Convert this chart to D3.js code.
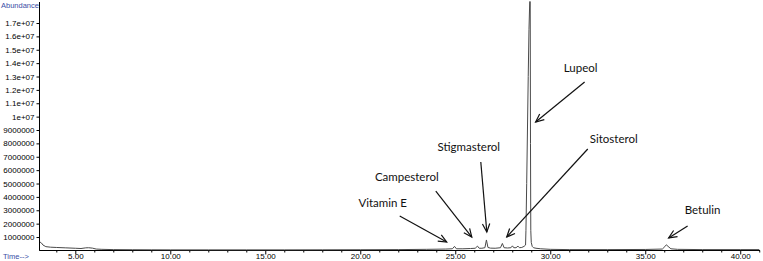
<!DOCTYPE html>
<html><head><meta charset="utf-8">
<script src="https://cdn.jsdelivr.net/npm/d3@7/dist/d3.min.js"></script>
<style>
html,body{margin:0;padding:0;background:#fff;}
svg{display:block;}
</style></head>
<body>
<svg id="chart" width="763" height="261"></svg>
<script>
// ---- data ----
const retentionTimes = [3.10,3.15,3.22,3.30,3.45,3.70,4.00,4.50,5.00,5.30,5.55,5.70,5.90,6.10,6.40,7.00,8.00,9.00,10.00,12.00,14.00,16.00,18.00,20.00,22.00,23.50,24.50,24.85,24.96,25.06,25.40,25.80,26.05,26.17,26.26,26.40,26.56,26.64,26.72,26.85,27.10,27.38,27.48,27.57,27.75,27.93,28.01,28.08,28.20,28.30,28.38,28.50,28.62,28.70,28.72,28.76,28.80,28.84,28.88,28.92,28.945,28.96,28.975,29.00,29.05,29.12,29.25,29.50,30.00,31.00,33.00,35.00,35.90,36.03,36.11,36.20,36.35,36.70,38.00,40.00,41.00];
const abundance = [500000,620000,550000,400000,280000,240000,220000,190000,160000,140000,190000,200000,170000,100000,80000,60000,50000,45000,40000,40000,40000,40000,45000,50000,60000,80000,100000,120000,300000,120000,120000,140000,160000,320000,160000,160000,200000,780000,220000,170000,160000,200000,520000,200000,180000,200000,340000,200000,200000,320000,200000,220000,300000,400000,1500000,5000000,9000000,13000000,16500000,18600000,18600000,8000000,1500000,600000,300000,200000,160000,120000,80000,60000,60000,70000,100000,280000,420000,300000,120000,80000,60000,60000,60000];

const yTickValues = [1000000,2000000,3000000,4000000,5000000,6000000,7000000,8000000,9000000,10000000,11000000,12000000,13000000,14000000,15000000,16000000,17000000];
const yTickLabels = ["1000000","2000000","3000000","4000000","5000000","6000000","7000000","8000000","9000000","1e+07","1.1e+07","1.2e+07","1.3e+07","1.4e+07","1.5e+07","1.6e+07","1.7e+07"];
const xMajorTicks = [5,10,15,20,25,30,35,40];
const xTickLabels = ["5.00","10.00","15.00","20.00","25.00","30.00","35.00","40.00"];
const xMinorTicks = [4,6,7,8,9,11,12,13,14,16,17,18,19,21,22,23,24,26,27,28,29,31,32,33,34,36,37,38,39,41];

// annotations: label, arrow tip (time, abundance)
const annotLabels = ["Vitamin E","Campesterol","Stigmasterol","Sitosterol","Lupeol","Betulin"];
const annotTime = [24.55,25.87,26.66,27.71,29.23,36.23];
const annotValue = [630000,1000000,1380000,1000000,9600000,930000];

// ---- layout (pixels) ----
const arrowTail = [[-47,-26],[-36,-46],[-6,-70],[81,-88],[49,-40],[19,-12]];
const textOffset = [[-17,-13],[-29,-15],[-12,-15],[26,-11],[-4,-14],[15,-16]];

const svg = d3.select("#chart");
const x = d3.scaleLinear().domain([3.1, 41.04]).range([39.2, 760]);
const y = d3.scaleLinear().domain([0, 18570000]).range([250.4, 2]);

const axisColor = "#000";
const blue = "#3b4ea6";

// x axis line
svg.append("line").attr("x1", x.range()[0]).attr("x2", x.range()[1])
  .attr("y1", 250.5).attr("y2", 250.5).attr("stroke", axisColor).attr("stroke-width", 1);
// y axis line
svg.append("line").attr("x1", 39.5).attr("x2", 39.5)
  .attr("y1", 2).attr("y2", 250.5).attr("stroke", axisColor).attr("stroke-width", 1);

// y axis via d3
const yAxis = d3.axisLeft(y).tickValues(yTickValues)
  .tickFormat((d,i) => yTickLabels[i]).tickSize(3).tickPadding(2);
const gy = svg.append("g").attr("transform", "translate(39.5,0)").call(yAxis);
gy.select(".domain").remove();
gy.selectAll("text").attr("font-family", "Liberation Sans, Arial, sans-serif").attr("font-size", "8px").attr("fill", "#000");

// x axis major
const xAxis = d3.axisBottom(x).tickValues(xMajorTicks)
  .tickFormat((d,i) => xTickLabels[i]).tickSize(4).tickPadding(0);
const gx = svg.append("g").attr("transform", "translate(0,250.5)").call(xAxis);
gx.select(".domain").remove();
gx.selectAll("text").attr("font-family", "Liberation Sans, Arial, sans-serif").attr("font-size", "8px").attr("fill", "#000").attr("dy", "0.55em");

// minor ticks
const xMinor = d3.axisBottom(x).tickValues(xMinorTicks).tickFormat("").tickSize(2);
const gm = svg.append("g").attr("transform", "translate(0,250.5)").call(xMinor);
gm.select(".domain").remove();

// labels
svg.append("text").attr("x", 1).attr("y", 7.5).text("Abundance")
  .attr("font-family", "Liberation Sans, Arial, sans-serif").attr("font-size", "7.5px").attr("fill", blue);
svg.append("text").attr("x", 3).attr("y", 259).text("Time-->")
  .attr("font-family", "Liberation Sans, Arial, sans-serif").attr("font-size", "7.5px").attr("fill", blue);

// trace
const pts = retentionTimes.map((t,i) => [t, abundance[i]]);
svg.append("defs").append("clipPath").attr("id","clip").append("rect")
  .attr("x", 40).attr("y", 1).attr("width", 721).attr("height", 250);
svg.append("path").datum(pts)
  .attr("clip-path","url(#clip)")
  .attr("d", d3.line().x(d => x(d[0])).y(d => y(d[1])))
  .attr("fill", "none").attr("stroke", "#4a4a4a").attr("stroke-width", 1);

// annotations
const ag = svg.append("g");
annotLabels.forEach((lab, i) => {
  const tx = x(annotTime[i]), ty = y(annotValue[i]);
  const sx = tx + arrowTail[i][0], sy = ty + arrowTail[i][1];
  ag.append("line").attr("x1", sx).attr("y1", sy).attr("x2", tx).attr("y2", ty)
    .attr("stroke", "#111").attr("stroke-width", 1.2);
  const ang = Math.atan2(ty - sy, tx - sx);
  const L = 9, a = 0.42;
  const p1 = [tx - L*Math.cos(ang - a), ty - L*Math.sin(ang - a)];
  const p2 = [tx - L*Math.cos(ang + a), ty - L*Math.sin(ang + a)];
  ag.append("path").attr("d", `M${p1[0]},${p1[1]}L${tx},${ty}L${p2[0]},${p2[1]}`)
    .attr("fill", "none").attr("stroke", "#111").attr("stroke-width", 1.2);
  ag.append("text").attr("x", sx + textOffset[i][0]).attr("y", sy + textOffset[i][1])
    .attr("text-anchor", "middle").attr("dominant-baseline", "central")
    .attr("font-family", "Lato, 'Open Sans', sans-serif").attr("font-size", "11.5px").attr("fill", "#111")
    .text(lab);
});
</script>
</body></html>
